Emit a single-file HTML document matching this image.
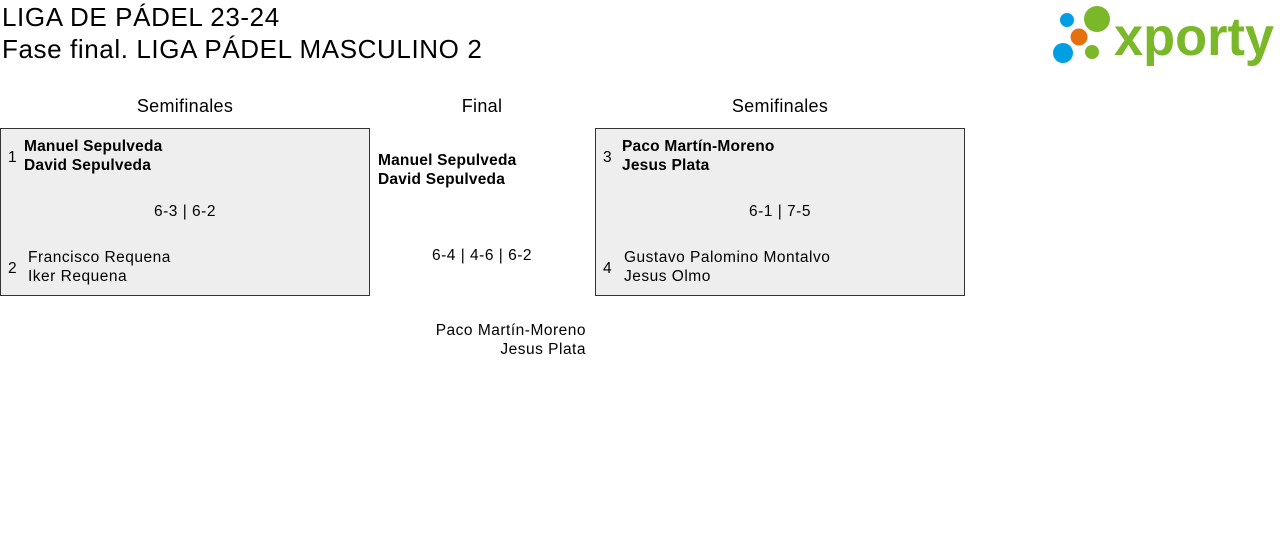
<!DOCTYPE html>
<html><head><meta charset="utf-8"><style>
body{margin:0;width:1280px;height:547px;background:#fff;font-family:"Liberation Sans",sans-serif;color:#000;position:relative;overflow:hidden}
.a{position:absolute;white-space:nowrap}
.t{font-size:26px;left:2px;letter-spacing:0.6px}
.h{font-size:18px;text-align:center;letter-spacing:0.3px}
.box{position:absolute;border:1px solid #333;background:#eee;width:368px;height:166px;top:128px}
.n{font-size:15.5px;line-height:19px;letter-spacing:0.5px}
.b{font-weight:bold;letter-spacing:0.2px}
</style></head><body>
<div class="a t" style="top:2px">LIGA DE PÁDEL 23-24</div>
<div class="a t" style="top:34px">Fase final. LIGA PÁDEL MASCULINO 2</div>
<svg class="a" style="left:1045px;top:0" width="235" height="70">
<circle cx="22" cy="20" r="7" fill="#009fe3"/>
<circle cx="52" cy="19" r="13" fill="#7ab829"/>
<circle cx="34" cy="37" r="8.5" fill="#e5700e"/>
<circle cx="18" cy="53" r="10" fill="#009fe3"/>
<circle cx="47" cy="52" r="7" fill="#7ab829"/>
<text x="69" y="55" font-family="Liberation Sans" font-weight="bold" font-size="54" fill="#7ab829" textLength="160" lengthAdjust="spacingAndGlyphs">xporty</text>
</svg>
<div class="a h" style="left:0;width:370px;top:96px">Semifinales</div>
<div class="a h" style="left:402px;width:160px;top:96px">Final</div>
<div class="a h" style="left:595px;width:370px;top:96px">Semifinales</div>
<div class="box" style="left:0"></div>
<div class="box" style="left:595px"></div>
<div class="a n" style="left:8px;top:148px">1</div>
<div class="a n b" style="left:24px;top:137px">Manuel Sepulveda<br>David Sepulveda</div>
<div class="a n" style="left:0;width:370px;text-align:center;top:202px">6-3 | 6-2</div>
<div class="a n" style="left:8px;top:259px">2</div>
<div class="a n" style="left:28px;top:248px">Francisco Requena<br>Iker Requena</div>
<div class="a n" style="left:603px;top:148px">3</div>
<div class="a n b" style="left:622px;top:137px">Paco Martín-Moreno<br>Jesus Plata</div>
<div class="a n" style="left:595px;width:370px;text-align:center;top:202px">6-1 | 7-5</div>
<div class="a n" style="left:603px;top:259px">4</div>
<div class="a n" style="left:624px;top:248px">Gustavo Palomino Montalvo<br>Jesus Olmo</div>
<div class="a n b" style="left:378px;top:151px">Manuel Sepulveda<br>David Sepulveda</div>
<div class="a n" style="left:402px;width:160px;text-align:center;top:246px">6-4 | 4-6 | 6-2</div>
<div class="a n" style="right:694px;text-align:right;top:321px">Paco Martín-Moreno<br>Jesus Plata</div>
</body></html>
